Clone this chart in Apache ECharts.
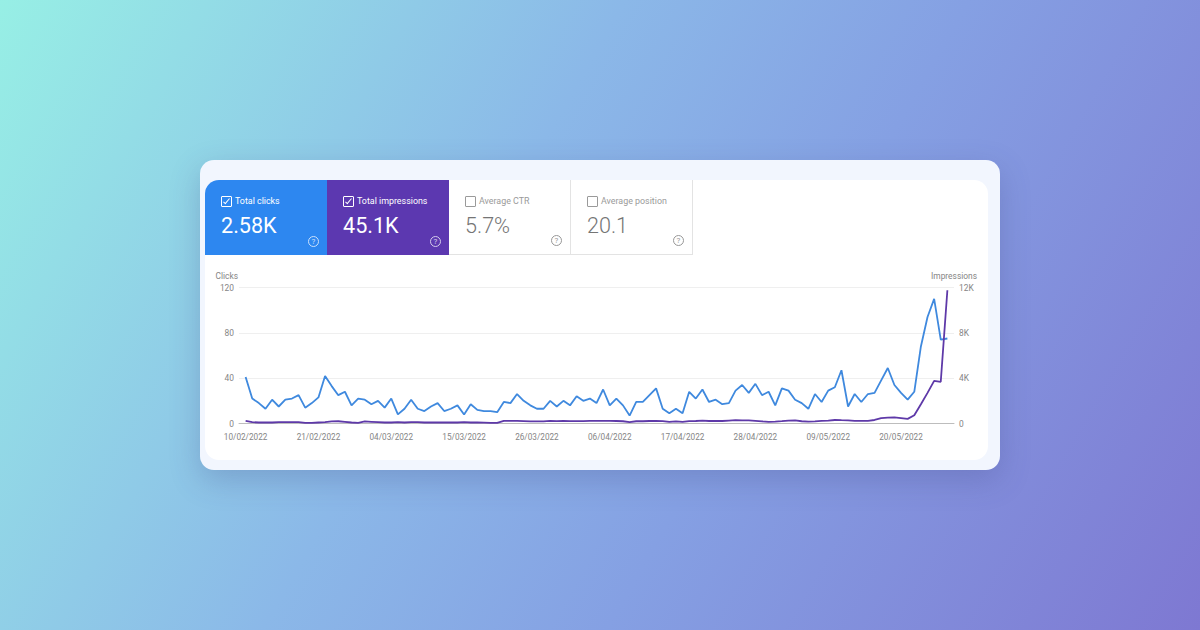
<!DOCTYPE html>
<html>
<head>
<meta charset="UTF-8">
<title>Search performance</title>
<script src="https://cdn.jsdelivr.net/npm/echarts@6/dist/echarts.min.js"></script>
<style>
html, body { margin: 0; padding: 0; }
body { width: 1200px; height: 630px; overflow: hidden; position: relative; font-family: Roboto, sans-serif;
	background: linear-gradient(120deg, #97efe5 0%, #8bb8e8 40%, #85a0e3 62%, #7e78d2 100%); }
#card { position: absolute; left: 200px; top: 160px; width: 800px; height: 310px; background: #f2f6fe; border-radius: 14px; box-shadow: 0 10px 30px rgba(60,70,130,0.26); }
#inner { position: absolute; left: 205px; top: 180px; width: 783px; height: 280px; background: #fff; border-radius: 14px; overflow: hidden; }
.tile { position: absolute; top: 0; width: 122px; height: 75px; box-sizing: border-box; color: #fff; }
.tile.off { color: #757575; border-right: 1px solid #e3e3e3; border-bottom: 1px solid #e3e3e3; }
.tile .box { position: absolute; left: 16px; top: 16px; width: 11px; height: 11px; box-sizing: border-box; border: 1px solid #fff; border-radius: 1px; }
.tile.off .box { border-color: #9a9a9a; }
.tile .box i { position: absolute; left: 3px; top: 0; width: 2px; height: 6px; border: solid #fff; border-width: 0 1.3px 1.3px 0; transform: rotate(40deg); }
.tile .name { position: absolute; left: 30px; top: 15px; font-size: 8.9px; line-height: 12px; white-space: nowrap; }
.tile.off .name { color: #9a9a9a; }
.tile .val { position: absolute; left: 16px; top: 32px; font-size: 21.6px; line-height: 28px; white-space: nowrap; }
.tile.off .val { font-weight: 300; }
.tile .help { position: absolute; right: 8px; bottom: 8px; width: 9px; height: 9px; border: 1px solid currentColor; border-radius: 50%; font-size: 8px; line-height: 9px; text-align: center; opacity: 0.75; }
#chart { position: absolute; left: 205px; top: 265px; width: 783px; height: 190px; }
</style>
</head>
<body>
<div id="card"></div>
<div id="inner">
	<div class="tile" style="left:0;background:#2d87f0"><span class="box"><i></i></span><span class="name">Total clicks</span><span class="val">2.58K</span><span class="help">?</span></div>
	<div class="tile" style="left:122px;background:#5c38b0"><span class="box"><i></i></span><span class="name">Total impressions</span><span class="val">45.1K</span><span class="help">?</span></div>
	<div class="tile off" style="left:244px"><span class="box"></span><span class="name">Average CTR</span><span class="val">5.7%</span><span class="help">?</span></div>
	<div class="tile off" style="left:366px"><span class="box"></span><span class="name">Average position</span><span class="val">20.1</span><span class="help">?</span></div>
</div>
<div id="chart"></div>
<script type="text/javascript">
var clicks = [41,22,18,13,21,15,21,22,25,14,18,23,42,33,25,28,16,22,21,17,20,14,22,8,13,21,13,11,15,18,11,13,16,8,17,
	12,11,11,10,19,18,26,20,16,13,13,20,15,20,16,24,20,22,18,30,16,22,16,7,19,19,25,31,13,9,13,9,28,22,30,19,21,17,18,
	29,34,27,35,25,28,16,31,29,21,18,13,26,19,29,32,47,15,26,19,26,27,38,49,34,27,21,28,68,94,110,74,75];
var impressions = [230,120,90,90,90,120,120,120,120,60,60,90,120,180,200,150,90,60,180,150,120,90,90,120,90,120,120,90,90,90,90,90,90,120,90,
	90,70,50,60,240,240,240,210,180,180,190,240,210,220,210,210,210,240,240,240,230,220,200,130,200,200,220,230,210,140,190,140,210,220,260,220,220,220,
	260,300,270,280,240,190,150,170,210,260,270,200,170,190,240,260,310,290,280,230,230,230,310,480,520,540,480,410,730,1700,2700,3760,3680,11760];
var clicksTicks = [0, 40, 80, 120];
var tickStep = 11;

// dates, one per day from 10/02/2022
var dates = [];
for (var i = 0; i < clicks.length; i++) {
	var d = new Date(Date.UTC(2022, 1, 10 + i));
	dates.push(('0' + d.getUTCDate()).slice(-2) + '/' + ('0' + (d.getUTCMonth() + 1)).slice(-2) + '/' + d.getUTCFullYear());
}
// one empty slot each side so the lines stand off the axis ends
var cats = [''].concat(dates, ['']);
var pad = function (arr) { return [null].concat(arr, [null]); };

var gray = '#858585';
var chart = echarts.init(document.getElementById('chart'), null, { renderer: 'svg' });
chart.setOption({
	animation: false,
	textStyle: { fontFamily: 'Roboto' },
	grid: { left: 34, right: 34, top: 22.5, height: 136 },
	xAxis: {
		type: 'category',
		data: cats,
		boundaryGap: false,
		axisTick: { show: false },
		axisLine: { lineStyle: { color: '#bdbdbd', width: 1 } },
		axisLabel: {
			color: gray, fontSize: 8.2, margin: 9, showMinLabel: true,
			interval: function (idx) { return idx > 0 && (idx - 1) % tickStep === 0 && idx < cats.length - 1; }
		}
	},
	yAxis: [{
		type: 'value', min: 0, max: clicksTicks[3], interval: 40,
		name: 'Clicks', nameGap: 8,
		nameTextStyle: { color: gray, fontSize: 8.4, align: 'right', padding: [0, 1, 0, 0] },
		axisLabel: { color: gray, fontSize: 8.4, margin: 5 },
		axisLine: { show: false }, axisTick: { show: false },
		splitLine: { lineStyle: { color: '#efefef', width: 1 } }
	}, {
		type: 'value', min: 0, max: 12000, interval: 4000,
		name: 'Impressions', nameGap: 8,
		nameTextStyle: { color: gray, fontSize: 8.4, align: 'center' },
		axisLabel: { color: gray, fontSize: 8.4, margin: 5, formatter: function (v) { return v ? v / 1000 + 'K' : '0'; } },
		axisLine: { show: false }, axisTick: { show: false },
		splitLine: { show: false }
	}],
	series: [{
		name: 'Clicks', type: 'line', yAxisIndex: 0, data: pad(clicks),
		showSymbol: false, lineStyle: { color: '#3f89de', width: 1.8 }, itemStyle: { color: '#3f89de' }
	}, {
		name: 'Impressions', type: 'line', yAxisIndex: 1, data: pad(impressions),
		showSymbol: false, lineStyle: { color: '#5e39a8', width: 1.8 }, itemStyle: { color: '#5e39a8' }
	}]
});
</script>
</body>
</html>
